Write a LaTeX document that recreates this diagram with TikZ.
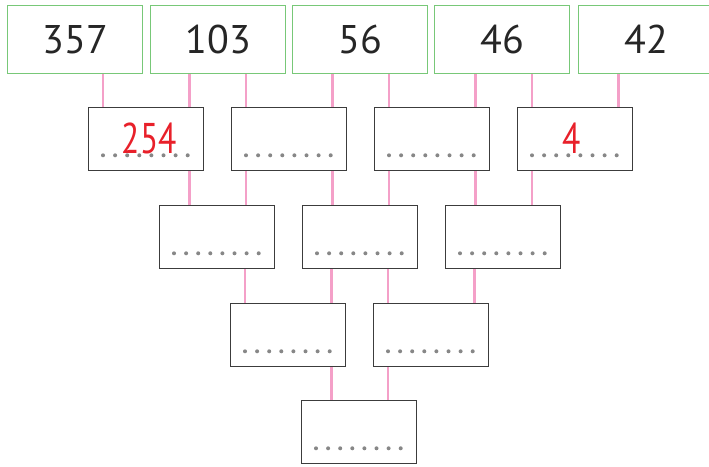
\documentclass[tikz,border=0pt]{standalone}
\usepackage{fontspec}
\setmainfont{PT Sans}
\usetikzlibrary{positioning, calc}

\definecolor{topgreen}{RGB}{120,200,120}
\definecolor{linkpink}{RGB}{244,160,200}
\definecolor{boxgray}{RGB}{60,60,60}
\definecolor{dotgray}{RGB}{135,135,135}
\definecolor{answerred}{RGB}{232,32,42}

\tikzset{
  top/.style={draw=topgreen, line width=1.3pt, minimum width=135pt, minimum height=68pt,
    inner sep=0pt, anchor=north west, text=black!85, font=\fontsize{40}{42}\selectfont},
  box/.style={draw=boxgray, line width=1.3pt, minimum width=115pt, minimum height=63pt,
    inner sep=0pt, anchor=north west},
  link/.style={draw=linkpink, line width=2.4pt},
  answer/.style={anchor=base, inner sep=0pt, text=answerred, font=\fontsize{43}{45}\selectfont}
}

\begin{document}
\begin{tikzpicture}[x=1pt, y=-1pt]
\useasboundingbox (0,0) rectangle (709,466);

% top row
\node[top]    (t1) at (7,5)   {357};
\node[top]    (t2) at (150,5) {103};
\node[top]    (t3) at (292,5) {56};
\node[top]    (t4) at (434,5) {46};
\node[top]    (t5) at (578,5) {42};

% answer boxes
\node[box]    (a1) at (88,107)  {};
\node[box]    (a2) at (231,107) {};
\node[box]    (a3) at (374,107) {};
\node[box]    (a4) at (517,107) {};
\node[box]    (b1) at (159,205) {};
\node[box]    (b2) at (302,205) {};
\node[box]    (b3) at (445,205) {};
\node[box]    (c1) at (230,303) {};
\node[box]    (c2) at (373,303) {};
\node[box]    (d1) at (301,400) {};

% connectors
\foreach \up/\low/\ref/\corner/\dx in {
  t1/a1/a1/north west/15, t2/a1/a1/north east/-15,
  t2/a2/a2/north west/15, t3/a2/a2/north east/-15,
  t3/a3/a3/north west/15, t4/a3/a3/north east/-15,
  t4/a4/a4/north west/15, t5/a4/a4/north east/-15,
  a1/b1/a1/south east/-15, a2/b1/a2/south west/15,
  a2/b2/a2/south east/-15, a3/b2/a3/south west/15,
  a3/b3/a3/south east/-15, a4/b3/a4/south west/15,
  b1/c1/c1/north west/15, b2/c1/c1/north east/-15,
  b2/c2/c2/north west/15, b3/c2/c2/north east/-15,
  c1/d1/c1/south east/-15, c2/d1/c2/south west/15}
{
  \coordinate (x) at ([xshift=\dx]\ref.\corner);
  \draw[link] (\up.south -| x) -- (\low.north -| x);
}

% dotted answer lines
\foreach \n in {a1,a2,a3,a4,b1,b2,b3,c1,c2,d1}
  \foreach \i in {0,...,7}
    \fill[dotgray] ([xshift=15+\i*12.1, yshift=16]\n.south west) circle (2pt);

% answers already filled in
\node[answer] (r1) at ([xshift=3, yshift=18]a1.south) {\scalebox{0.78}[1]{254}};
\node[answer] (r4) at ([xshift=-3.5, yshift=18]a4.south) {\scalebox{0.78}[1]{4}};

\end{tikzpicture}
\end{document}
